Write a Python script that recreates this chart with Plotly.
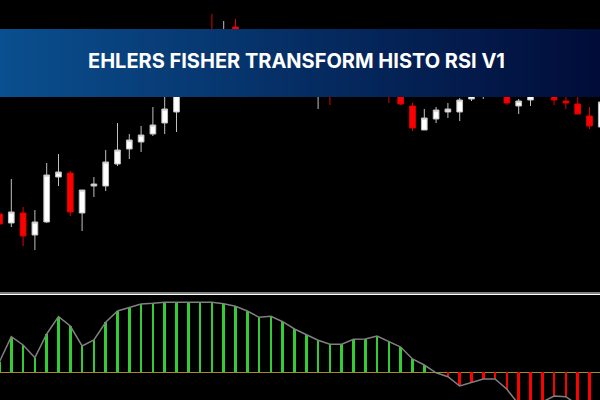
import plotly.graph_objects as go

# ---- price data (arbitrary price points) ----
idx = list(range(52))
open_ = [86, 77, 87, 65, 78, 123, 127, 87, 114, 114, 136, 151, 158, 166, 177, 188,
         208, 230, 260, 238, 273, 250, 260, 235, 225, 245, 230, 210, 235, 215, 220, 235,
         218, 240, 220, 194, 170, 181, 188, 188, 201, 205, 218, 215, 194, 200, 210, 208,
         199, 196, 184, 173]
high = [90, 121, 93, 90, 137, 146, 129, 110, 123, 150, 177, 166, 174, 193, 212, 220,
        240, 255, 286, 279, 281, 270, 268, 260, 255, 260, 250, 245, 255, 238, 245, 250,
        252, 255, 235, 197, 191, 193, 197, 202, 220, 225, 230, 225, 201, 215, 220, 215,
        206, 208, 193, 205]
low = [72, 73, 54, 50, 77, 114, 84, 69, 103, 109, 134, 141, 148, 164, 166, 168,
       204, 210, 225, 220, 230, 222, 215, 210, 208, 215, 205, 191, 195, 204, 208, 210,
       206, 197, 195, 169, 170, 177, 182, 179, 199, 201, 206, 195, 186, 194, 204, 195,
       191, 186, 171, 170]
close = [76, 88, 64, 78, 125, 128, 88, 110, 116, 138, 150, 160, 165, 175, 191, 208,
         230, 245, 240, 265, 250, 260, 235, 225, 245, 230, 215, 235, 215, 222, 235, 220,
         240, 215, 196, 172, 182, 190, 191, 200, 212, 218, 210, 197, 199, 210, 207, 200,
         197, 186, 174, 198]

# ---- indicator (Fisher histogram) ----
fisher = [1.06, 3.56, 2.73, 1.46, 3.83, 5.56, 4.63, 2.63, 3.23, 5.00, 6.13, 6.46,
          6.83, 6.90, 7.00, 7.00, 7.00, 7.00, 7.00, 6.86, 6.60, 6.13, 5.50, 5.60,
          5.06, 4.33, 3.73, 3.20, 2.80, 2.80, 3.30, 3.33, 3.63, 3.06, 2.53, 1.33,
          0.73, -0.05, -0.44, -1.37, -1.04, -0.67, -0.67, -1.70, -3.20, -3.30, -2.97,
          -2.37, -2.44, -3.27, -3.57, -3.70]

title_text = "EHLERS FISHER TRANSFORM HISTO RSI V1"

W, H = 600, 400

fig = go.Figure()

fig.add_trace(go.Candlestick(
    x=idx, open=open_, high=high, low=low, close=close,
    increasing=dict(fillcolor="#ffffff", line=dict(color="#c0c0c0", width=1)),
    decreasing=dict(fillcolor="#ff0000", line=dict(color="#e00000", width=1)),
    whiskerwidth=0, xaxis="x", yaxis="y", hoverinfo="skip", showlegend=False,
))

bar_colors = ["#32cd32" if v >= 0 else "#ff0000" for v in fisher]
fig.add_trace(go.Bar(
    x=idx, y=fisher, marker=dict(color=bar_colors, line=dict(width=0)),
    width=0.21, xaxis="x2", yaxis="y2", hoverinfo="skip", showlegend=False,
))
fig.add_trace(go.Scatter(
    x=idx, y=fisher, mode="lines", line=dict(color="#808080", width=1.5),
    xaxis="x2", yaxis="y2", hoverinfo="skip", showlegend=False,
))

xr = [0.042, 50.89]
fig.update_layout(
    width=W, height=H,
    margin=dict(l=0, r=0, t=0, b=0),
    paper_bgcolor="#000000", plot_bgcolor="#000000",
    boxgap=0.31,
    bargap=0,
    xaxis=dict(domain=[0, 1], range=xr, visible=False, anchor="y",
               rangeslider=dict(visible=False)),
    yaxis=dict(domain=[1 - 291 / H, 1], range=[9, 300], visible=False, anchor="x"),
    xaxis2=dict(domain=[0, 1], range=xr, visible=False, anchor="y2"),
    yaxis2=dict(domain=[0, 1 - 295 / H], range=[-2.77, 7.73], showgrid=False,
                showticklabels=False, zeroline=True, zerolinecolor="#a08c28",
                zerolinewidth=1, anchor="x2"),
)

shapes = []
# separator lines between panels
shapes.append(dict(type="line", xref="paper", yref="paper", x0=0, x1=1,
                   y0=1 - 292.5 / H, y1=1 - 292.5 / H,
                   line=dict(color="#808080", width=1)))
shapes.append(dict(type="line", xref="paper", yref="paper", x0=0, x1=1,
                   y0=1 - 294.3 / H, y1=1 - 294.3 / H,
                   line=dict(color="#ffffff", width=1.5)))

# gradient banner
left = (10, 79, 143)
right = (1, 12, 56)
n = 100
y0b = 1 - 97 / H
y1b = 1 - 29 / H
for k in range(n):
    t = (k + 0.5) / n
    c = tuple(int(round(left[j] + (right[j] - left[j]) * t)) for j in range(3))
    shapes.append(dict(type="rect", xref="paper", yref="paper",
                       x0=k / n, x1=(k + 1) / n + 0.002, y0=y0b, y1=y1b,
                       fillcolor="rgb(%d,%d,%d)" % c, line=dict(width=0),
                       layer="above"))
fig.update_layout(shapes=shapes)

fig.add_annotation(
    text=title_text, xref="paper", yref="paper",
    x=296 / W, y=1 - 61 / H, xanchor="center", yanchor="middle",
    showarrow=False,
    font=dict(family="Inter", size=20, color="#ffffff", weight=700),
)

fig.write_html(
    "out.html",
    config={"displayModeBar": False},
    post_script="document.body.style.margin='0';document.body.style.background='#000';",
)
